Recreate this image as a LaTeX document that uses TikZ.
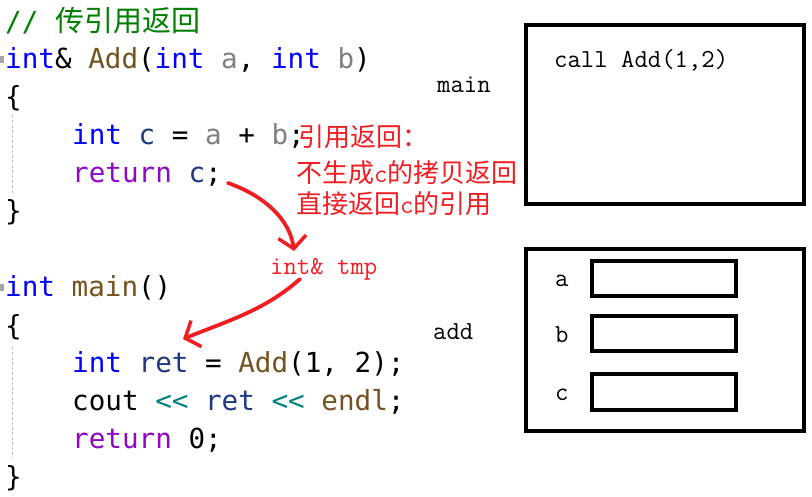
\documentclass[tikz,border=0pt]{standalone}
\usepackage{fontspec}
\usetikzlibrary{arrows.meta}
\newfontfamily\codefont{DejaVu Sans Mono}
\newfontfamily\cjk{Noto Sans CJK SC}
\newfontfamily\smono{Latin Modern Mono}
\definecolor{kw}{RGB}{0,0,255}
\definecolor{fn}{RGB}{116,83,31}
\definecolor{prm}{RGB}{128,128,128}
\definecolor{ctl}{RGB}{143,8,196}
\definecolor{var}{RGB}{31,55,127}
\definecolor{op}{RGB}{0,128,128}
\definecolor{cmt}{RGB}{0,128,0}
\definecolor{note}{RGB}{240,30,35}
\tikzset{
  code/.style={anchor=base west, inner sep=0pt, font=\codefont\fontsize{27.6}{30}\selectfont},
  notetext/.style={anchor=base west, inner sep=0pt, text=note, font=\cjk\fontsize{26}{28}\selectfont},
  label/.style={anchor=base west, inner sep=0pt, font=\smono\fontsize{26}{28}\selectfont},
  frame/.style={draw=black, line width=4.6pt},
  slot/.style={draw=black, line width=4pt},
  guide/.style={draw=black!25, line width=0.8pt, dash pattern=on 3pt off 2pt},
  redarrow/.style={draw=note, line width=3.8pt, line cap=round, line join=round, -{Straight Barb[length=12pt,width=28pt,line width=3.5pt]}}
}
\begin{document}
\begin{tikzpicture}[x=1pt,y=-1pt]
\useasboundingbox (0,0) rectangle (812,497);
\fill[white] (0,0) rectangle (812,497);
% guides
\draw[guide] (12,115) -- (12,195);
\draw[guide] (12,347) -- (12,458);
\fill[black!35] (0,56) rectangle (4,63);
\fill[black!35] (0,284) rectangle (4,291);
% code
\node[code, text=cmt] (cm) at (5,32) {// {\cjk\fontsize{29}{30}\selectfont 传引用返回}};
\node[code] (l1) at (5,69) {\textcolor{kw}{int}\& \textcolor{fn}{Add}(\textcolor{kw}{int} \textcolor{prm}{a}, \textcolor{kw}{int} \textcolor{prm}{b})};
\node[code] (l2) at (5,107) {\{};
\node[code] (l3) at (72,145) {\textcolor{kw}{int} \textcolor{var}{c} = \textcolor{prm}{a} + \textcolor{prm}{b};};
\node[code] (l4) at (72,183) {\textcolor{ctl}{return} \textcolor{var}{c};};
\node[code] (l5) at (5,221) {\}};
\node[code] (l6) at (5,297) {\textcolor{kw}{int} \textcolor{fn}{main}()};
\node[code] (l7) at (5,335) {\{};
\node[code] (l8) at (72,372) {\textcolor{kw}{int} \textcolor{var}{ret} = \textcolor{fn}{Add}(1, 2);};
\node[code] (l9) at (72,410) {cout \textcolor{op}{<<} \textcolor{var}{ret} \textcolor{op}{<<} \textcolor{fn}{endl};};
\node[code] (l10) at (72,448) {\textcolor{ctl}{return} 0;};
\node[code] (l11) at (5,486) {\}};
% notes
\node[notetext] (n1) at (298,147) {引用返回：};
\node[notetext] (n2) at (296,183) {不生成{\smono c}的拷贝返回};
\node[notetext] (n3) at (296,214) {直接返回{\smono c}的引用};
\node[label, text=note] (tmp) at (270,275) {int\& tmp};
% arrows
\coordinate (s1) at (228,183);
\coordinate (e1) at (294,251);
\draw[redarrow] (s1) .. controls (265,196) and (290,220) .. (e1);
\coordinate (s2) at (300,279);
\coordinate (e2) at (183,339);
\draw[redarrow] (s2) .. controls (265,310) and (230,320) .. (e2);
% labels
\node[label] (mainl) at (437,93) {main};
\node[label] (addl) at (433,340) {add};
% frames
\draw[frame] (526,25) rectangle (804,204);
\node[label] (call) at (554,68) {call Add(1,2)};
\draw[frame] (526,249) rectangle (804,431);
\node[label] (la) at (555,287) {a};
\node[label] (lb) at (555,343) {b};
\node[label] (lc) at (555,400) {c};
\draw[slot] (592,261) rectangle (736,296);
\draw[slot] (592,316) rectangle (736,351);
\draw[slot] (592,374) rectangle (736,410);
\end{tikzpicture}
\end{document}
